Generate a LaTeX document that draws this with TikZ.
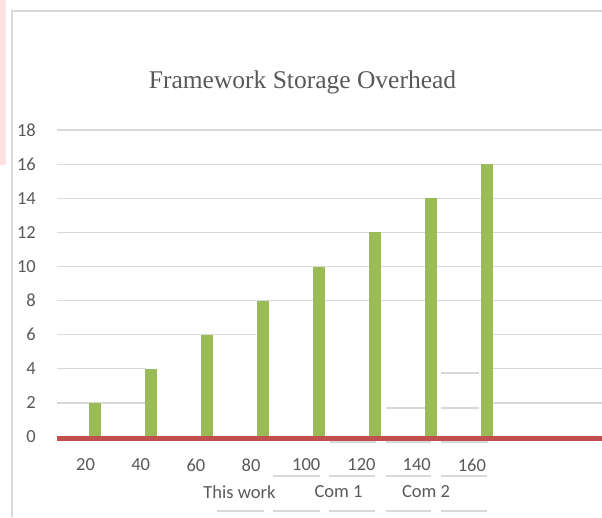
\documentclass[tikz,border=0pt]{standalone}
\usepackage{fontspec}
\setmainfont{Carlito}
\newfontfamily\titlefont{Liberation Serif}
\usetikzlibrary{positioning}
\definecolor{Grid}{HTML}{D9D9D9}
\definecolor{Bar}{HTML}{9BBB59}
\definecolor{Base}{HTML}{C0504D}
\definecolor{Ink}{HTML}{595959}
\definecolor{Blush}{HTML}{FFE3E3}

\begin{document}
\begin{tikzpicture}[x=1pt, y=-1pt,
    grid/.style={draw=Grid, line width=1.3pt},
    ghost/.style={draw=Grid, line width=2pt},
    tick/.style={font=\fontsize{18.5}{20}\selectfont, text=Ink, inner sep=0pt}]
  \useasboundingbox (0,0) rectangle (602,517);
  \fill[Blush] (0,0) rectangle (6,165);
  \draw[Grid, line width=1.5pt] (12,517) -- (12,11) -- (602,11);
  \node[font=\titlefont\fontsize{25.5}{28}\selectfont, text=Ink, anchor=base] (title) at (302.5,88) {Framework Storage Overhead};
  % gridlines
  \foreach \v in {8,10,...,18}
    \draw[grid] (57,{437-17.05*\v}) -- (602,{437-17.05*\v});
  \draw[grid] (57,334.7) -- (256,334.7);
  \draw[grid] (57,368.8) -- (146,368.8);
  \draw[grid] (57,402.9) -- (145,402.9);
  \foreach \v in {2,4,6}
    \draw[grid] (492,{437-17.05*\v}) -- (602,{437-17.05*\v});
  % stray segments
  \foreach \a/\b/\y in {441/479/373, 386/425/408, 441/479/408,
      330/376/442, 386/431/442, 441/488/442,
      273/320/476, 329/375/476, 386/431/476, 441/487/476,
      217/264/511, 273/320/511, 329/375/511, 386/431/511, 441/487/511}
    \draw[ghost] (\a,\y) -- (\b,\y);
  % bars
  \foreach \i in {1,...,8} {
    \pgfmathsetmacro\cx{95+55.95*(\i-1)}
    \pgfmathsetmacro\bartop{437-34.1*\i}
    \fill[Bar] ({\cx-6},437) rectangle ({\cx+6},\bartop);
    \pgfmathtruncatemacro\lab{20*\i}
    \node[tick] (x\lab) at ({85.5+55.2*(\i-1)},465) {\lab};
  }
  \draw[Base, line width=5pt] (57,438.5) -- (602,438.5);
  % axis values
  \foreach \v in {0,2,...,18}
    \node[tick, anchor=east] (y\v) at (36,{437-17.05*\v}) {\v};
  \node[tick] (thiswork) at (239.5,492) {This work};
  \node[tick] (com1) at (338.5,492) {Com 1};
  \node[tick] (com2) at (426,492) {Com 2};
\end{tikzpicture}
\end{document}
